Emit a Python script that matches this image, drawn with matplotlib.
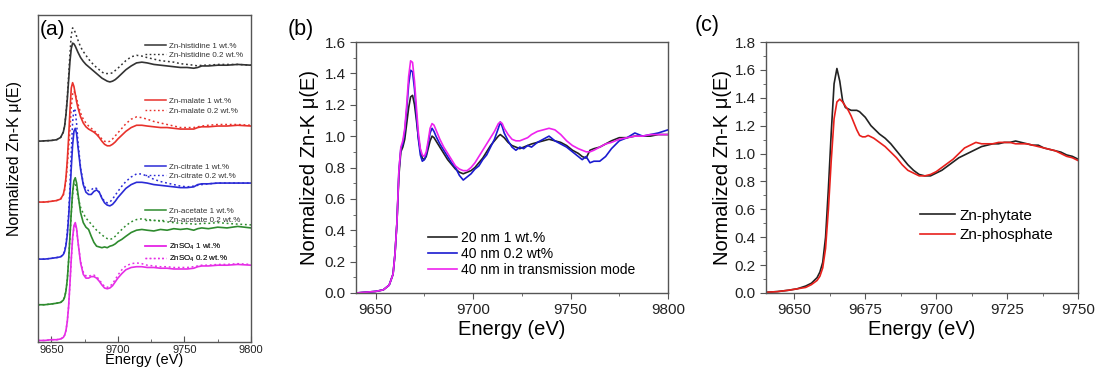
import matplotlib
matplotlib.use("Agg")
import matplotlib.pyplot as plt
from matplotlib.lines import Line2D
from matplotlib.ticker import MultipleLocator
import numpy as np

plt.rcParams['font.family'] = ['Liberation Sans', 'DejaVu Sans']
plt.rcParams['mathtext.fontset'] = 'custom'
plt.rcParams['mathtext.rm'] = 'Liberation Sans'
plt.rcParams['mathtext.default'] = 'regular'

# ---------------- Panel (a) data (normalized, relative to own baseline) ----
e_a = [9640, 9645, 9650, 9654, 9657, 9659, 9660, 9661, 9662, 9663, 9664, 9665,
       9666, 9667, 9668, 9669, 9670, 9672, 9674, 9676, 9678, 9680, 9682, 9684,
       9686, 9688, 9690, 9692, 9694, 9696, 9698, 9700, 9703, 9706, 9710, 9714,
       9718, 9722, 9727, 9732, 9737, 9742, 9747, 9752, 9757, 9760, 9763, 9768,
       9775, 9782, 9790, 9800]

his_1 = [0.0, 0.005, 0.01, 0.02, 0.05, 0.12, 0.2, 0.35, 0.55, 0.8, 1.05, 1.22,
         1.29, 1.28, 1.25, 1.21, 1.17, 1.10, 1.05, 1.01, 0.98, 0.95, 0.92, 0.89,
         0.86, 0.83, 0.81, 0.79, 0.78, 0.79, 0.81, 0.84, 0.89, 0.94, 0.99, 1.03,
         1.04, 1.03, 1.01, 1.0, 0.99, 0.98, 0.97, 0.97, 0.96, 0.97, 0.99, 0.99,
         1.0, 1.0, 1.01, 1.0]
his_02 = [0.0, 0.005, 0.01, 0.02, 0.05, 0.12, 0.2, 0.36, 0.58, 0.86, 1.15, 1.40,
          1.49, 1.47, 1.43, 1.38, 1.33, 1.24, 1.18, 1.13, 1.08, 1.04, 1.00, 0.97,
          0.94, 0.91, 0.89, 0.89, 0.89, 0.90, 0.93, 0.96, 1.01, 1.06, 1.11, 1.13,
          1.12, 1.10, 1.08, 1.06, 1.05, 1.04, 1.02, 1.01, 1.0, 0.99, 1.0, 1.0,
          1.01, 1.01, 1.01, 1.0]
mal_1 = [0.0, 0.0, 0.01, 0.02, 0.04, 0.10, 0.18, 0.32, 0.55, 0.85, 1.20, 1.50,
         1.57, 1.52, 1.42, 1.32, 1.24, 1.12, 1.04, 0.99, 0.96, 0.94, 0.92, 0.89,
         0.85, 0.80, 0.76, 0.74, 0.74, 0.76, 0.79, 0.83, 0.88, 0.93, 0.98, 1.01,
         1.01, 1.0, 0.99, 0.98, 0.98, 0.97, 0.96, 0.96, 0.96, 0.98, 0.99, 0.99,
         1.0, 1.0, 1.01, 1.0]
mal_02 = [0.0, 0.0, 0.01, 0.02, 0.04, 0.09, 0.16, 0.28, 0.48, 0.72, 0.95, 1.25,
          1.42, 1.46, 1.42, 1.36, 1.29, 1.17, 1.09, 1.04, 1.0, 0.97, 0.94, 0.91,
          0.87, 0.83, 0.80, 0.79, 0.80, 0.83, 0.87, 0.91, 0.97, 1.03, 1.09, 1.12,
          1.11, 1.09, 1.06, 1.04, 1.02, 1.0, 0.98, 0.98, 0.98, 0.99, 1.0, 1.01,
          1.02, 1.02, 1.02, 1.01]
cit_1 = [0.0, 0.0, 0.01, 0.02, 0.03, 0.06, 0.10, 0.18, 0.32, 0.55, 0.85, 1.20,
         1.50, 1.68, 1.72, 1.65, 1.48, 1.18, 0.98, 0.88, 0.85, 0.85, 0.89, 0.91,
         0.88, 0.80, 0.74, 0.71, 0.70, 0.72, 0.76, 0.81, 0.87, 0.93, 0.98, 1.01,
         1.01, 1.0, 0.98, 0.97, 0.96, 0.95, 0.94, 0.94, 0.95, 0.98, 0.99, 0.99,
         1.0, 1.0, 1.0, 1.0]
cit_02 = [0.0, 0.0, 0.01, 0.02, 0.03, 0.06, 0.11, 0.20, 0.36, 0.60, 0.95, 1.40,
          1.80, 1.98, 1.95, 1.78, 1.55, 1.20, 1.00, 0.92, 0.90, 0.91, 0.94, 0.93,
          0.88, 0.81, 0.76, 0.74, 0.75, 0.79, 0.84, 0.89, 0.96, 1.02, 1.08, 1.12,
          1.12, 1.09, 1.05, 1.02, 1.0, 0.98, 0.96, 0.95, 0.96, 0.97, 0.98, 0.99,
          1.0, 1.0, 1.0, 1.0]
ace_1 = [0.0, 0.0, 0.01, 0.02, 0.03, 0.06, 0.10, 0.18, 0.33, 0.58, 0.90, 1.22,
         1.48, 1.63, 1.67, 1.60, 1.46, 1.21, 1.08, 1.02, 0.99, 0.90, 0.82, 0.77,
         0.76, 0.75, 0.76, 0.75, 0.77, 0.78, 0.80, 0.83, 0.86, 0.90, 0.95, 0.98,
         0.99, 0.98, 0.97, 0.99, 0.98, 1.0, 0.99, 1.0, 0.98, 1.0, 1.01, 1.0,
         1.02, 1.01, 1.03, 1.01]
ace_02 = [0.0, 0.0, 0.01, 0.02, 0.03, 0.06, 0.10, 0.18, 0.33, 0.58, 0.90, 1.20,
          1.45, 1.60, 1.60, 1.52, 1.42, 1.28, 1.20, 1.14, 1.10, 1.06, 1.02, 0.98,
          0.95, 0.92, 0.89, 0.87, 0.86, 0.87, 0.90, 0.94, 0.99, 1.04, 1.09, 1.12,
          1.13, 1.12, 1.11, 1.10, 1.09, 1.08, 1.07, 1.07, 1.06, 1.06, 1.07, 1.07,
          1.08, 1.07, 1.06, 1.05]
so4_1 = [0.0, 0.0, 0.01, 0.01, 0.02, 0.04, 0.07, 0.13, 0.25, 0.45, 0.75, 1.08,
         1.35, 1.51, 1.55, 1.47, 1.30, 1.02, 0.87, 0.82, 0.82, 0.84, 0.84, 0.82,
         0.78, 0.73, 0.69, 0.68, 0.69, 0.72, 0.77, 0.82, 0.88, 0.93, 0.96, 0.97,
         0.97, 0.96, 0.96, 0.95, 0.95, 0.94, 0.94, 0.94, 0.95, 0.97, 0.98, 0.98,
         0.99, 0.99, 1.0, 0.99]
so4_02 = [0.0, 0.0, 0.01, 0.01, 0.02, 0.04, 0.07, 0.13, 0.25, 0.45, 0.74, 1.06,
          1.33, 1.49, 1.53, 1.46, 1.30, 1.04, 0.90, 0.85, 0.84, 0.86, 0.86, 0.84,
          0.80, 0.75, 0.71, 0.70, 0.71, 0.75, 0.80, 0.86, 0.93, 0.98, 1.01, 1.02,
          1.01, 0.99, 0.98, 0.97, 0.97, 0.96, 0.96, 0.96, 0.97, 0.98, 0.99, 0.99,
          1.0, 1.0, 1.01, 1.0]

labels_a = ["Zn-histidine", "Zn-malate", "Zn-citrate", "Zn-acetate", "ZnSO$_{4}$"]
offsets_a = [2.64, 1.84, 1.09, 0.49, 0.02]
colors_a = ["#333333", "#e8322c", "#2b2bd6", "#2e8b2e", "#e62ee6"]

# ---------------- Panel (b) data ----------------
e_b = [9640, 9645, 9650, 9654, 9657, 9659, 9660, 9661, 9662, 9663, 9664, 9665,
       9666, 9667, 9668, 9669, 9670, 9671, 9672, 9673, 9674, 9675, 9676, 9677,
       9678, 9679, 9680, 9681, 9683, 9685, 9687, 9689, 9691, 9693, 9695, 9697,
       9699, 9701, 9703, 9705, 9707, 9709, 9711, 9713, 9714, 9715, 9716, 9718,
       9720, 9722, 9724, 9726, 9728, 9730, 9733, 9736, 9739, 9742, 9745, 9748,
       9751, 9754, 9756, 9758, 9760, 9762, 9765, 9768, 9771, 9775, 9779, 9783,
       9787, 9791, 9795, 9800]
b_20nm = [0.0, 0.005, 0.01, 0.02, 0.05, 0.12, 0.25, 0.45, 0.75, 0.90, 0.93, 0.98,
          1.08, 1.18, 1.25, 1.26, 1.20, 1.10, 0.99, 0.91, 0.86, 0.85, 0.87, 0.92,
          0.97, 1.0, 0.99, 0.97, 0.93, 0.89, 0.85, 0.82, 0.79, 0.77, 0.76, 0.77,
          0.78, 0.80, 0.83, 0.86, 0.90, 0.94, 0.97, 1.0, 1.01, 1.0, 0.99, 0.96,
          0.94, 0.93, 0.92, 0.93, 0.94, 0.95, 0.96, 0.97, 0.98, 0.97, 0.96, 0.94,
          0.91, 0.89, 0.87, 0.86, 0.91, 0.92, 0.93, 0.95, 0.97, 0.99, 0.99, 1.0,
          1.0, 1.0, 1.01, 1.01]
b_40nm = [0.0, 0.005, 0.01, 0.02, 0.05, 0.12, 0.25, 0.45, 0.78, 0.92, 0.95, 1.03,
          1.17, 1.33, 1.42, 1.41, 1.30, 1.13, 0.98, 0.88, 0.84, 0.85, 0.88, 0.95,
          1.02, 1.05, 1.03, 1.00, 0.95, 0.91, 0.87, 0.83, 0.80, 0.75, 0.72, 0.74,
          0.76, 0.79, 0.81, 0.85, 0.88, 0.93, 0.98, 1.05, 1.09, 1.06, 1.02, 0.97,
          0.93, 0.91, 0.93, 0.92, 0.94, 0.93, 0.96, 0.98, 1.0, 0.97, 0.95, 0.93,
          0.90, 0.87, 0.85, 0.87, 0.83, 0.84, 0.84, 0.87, 0.92, 0.97, 0.99, 1.02,
          1.0, 1.01, 1.02, 1.04]
b_trans = [0.0, 0.005, 0.01, 0.02, 0.05, 0.12, 0.25, 0.45, 0.78, 0.93, 0.97, 1.05,
           1.20, 1.38, 1.48, 1.47, 1.35, 1.18, 1.02, 0.92, 0.88, 0.87, 0.90, 0.97,
           1.05, 1.08, 1.07, 1.04, 0.98, 0.93, 0.89, 0.85, 0.81, 0.79, 0.78, 0.78,
           0.80, 0.83, 0.87, 0.91, 0.95, 0.99, 1.03, 1.08, 1.09, 1.08, 1.05, 1.01,
           0.98, 0.97, 0.97, 0.98, 0.99, 1.01, 1.03, 1.04, 1.05, 1.04, 1.01, 0.97,
           0.94, 0.92, 0.91, 0.90, 0.90, 0.91, 0.93, 0.95, 0.96, 0.98, 0.99, 1.0,
           1.0, 1.01, 1.01, 1.01]
labels_b = ["20 nm 1 wt.%", "40 nm 0.2 wt%", "40 nm in transmission mode"]
colors_b = ["#222222", "#1a1ad0", "#ee22ee"]

# ---------------- Panel (c) data ----------------
e_c = [9640, 9644, 9648, 9651, 9654, 9656, 9658, 9659, 9660, 9661, 9662, 9663,
       9664, 9665, 9666, 9667, 9668, 9669, 9670, 9671, 9672, 9673, 9674, 9675,
       9676, 9677, 9678, 9680, 9682, 9684, 9686, 9688, 9690, 9692, 9694, 9696,
       9698, 9700, 9702, 9704, 9706, 9708, 9710, 9712, 9714, 9716, 9718, 9720,
       9722, 9724, 9726, 9728, 9730, 9732, 9734, 9736, 9738, 9740, 9742, 9744,
       9746, 9748, 9750]
phytate = [0.005, 0.01, 0.02, 0.03, 0.05, 0.07, 0.11, 0.15, 0.22, 0.40, 0.75, 1.15,
           1.50, 1.61, 1.52, 1.38, 1.33, 1.32, 1.31, 1.31, 1.31, 1.30, 1.28, 1.26,
           1.23, 1.20, 1.18, 1.14, 1.11, 1.07, 1.02, 0.97, 0.92, 0.88, 0.85, 0.84,
           0.84, 0.86, 0.88, 0.91, 0.94, 0.97, 0.99, 1.01, 1.03, 1.05, 1.06, 1.07,
           1.07, 1.08, 1.08, 1.09, 1.08, 1.07, 1.06, 1.06, 1.04, 1.03, 1.02, 1.01,
           0.99, 0.98, 0.96]
phosphate = [0.005, 0.01, 0.02, 0.03, 0.04, 0.06, 0.09, 0.12, 0.18, 0.32, 0.60, 0.95,
             1.25, 1.37, 1.39, 1.37, 1.34, 1.31, 1.27, 1.22, 1.17, 1.13, 1.12, 1.12,
             1.13, 1.12, 1.11, 1.08, 1.05, 1.01, 0.97, 0.92, 0.88, 0.86, 0.84, 0.84,
             0.85, 0.87, 0.90, 0.93, 0.96, 1.00, 1.04, 1.06, 1.08, 1.07, 1.07, 1.07,
             1.08, 1.08, 1.08, 1.07, 1.07, 1.07, 1.06, 1.05, 1.04, 1.03, 1.02, 1.00,
             0.98, 0.97, 0.95]
labels_c = ["Zn-phytate", "Zn-phosphate"]
colors_c = ["#222222", "#e8201c"]

# ---------------- Figure ----------------
fig = plt.figure(figsize=(10.96, 3.74), dpi=100)
spine_col = "#555555"

def style(ax, fs, direction='out', pad=3.5):
    for s in ax.spines.values():
        s.set_color(spine_col)
        s.set_linewidth(1.0)
    ax.tick_params(which='both', direction=direction, colors=spine_col,
                   labelcolor="#222222", labelsize=fs, pad=pad)
    ax.tick_params(which='major', length=4)
    ax.tick_params(which='minor', length=2.5)

# (a)
ax_a = fig.add_axes([38/1096, 32/374, 213/1096, 327/374])
ea = np.array(e_a)
solid_a = [his_1, mal_1, cit_1, ace_1, so4_1]
dot_a = [his_02, mal_02, cit_02, ace_02, so4_02]
for s1, s2, off, col in zip(solid_a, dot_a, offsets_a, colors_a):
    ax_a.plot(ea, np.array(s2) + off, color=col, lw=1.1, ls=(0, (1.2, 1.8)))
    ax_a.plot(ea, np.array(s1) + off, color=col, lw=1.2)
ax_a.set_xlim(9640, 9800)
ax_a.set_ylim(0, 4.3)
ax_a.set_yticks([])
ax_a.xaxis.set_major_locator(MultipleLocator(50))
ax_a.xaxis.set_minor_locator(MultipleLocator(25))
style(ax_a, 8, direction='in', pad=2)
ax_a.set_xlabel("Energy (eV)", fontsize=10.5, labelpad=-1)
ax_a.set_ylabel("Normalized Zn-K \u03bc(E)", fontsize=11.5)
ax_a.yaxis.set_label_coords(-0.075, 0.56)
ax_a.text(0.01, 0.985, "(a)", transform=ax_a.transAxes, fontsize=15,
          va='top', ha='left')
leg_y = [0.90, 0.73, 0.53, 0.395, 0.29]
for lab, col, y in zip(labels_a, colors_a, leg_y):
    h = [Line2D([], [], color=col, lw=1.1),
         Line2D([], [], color=col, lw=1.0, ls=(0, (1.2, 1.8)))]
    lg = ax_a.legend(h, [lab + " 1 wt.%", lab + " 0.2 wt.%"],
                     loc='upper left', bbox_to_anchor=(0.478, y + 0.035),
                     frameon=False, fontsize=5.8, handlelength=2.6,
                     handletextpad=0.3, labelspacing=0.25, borderpad=0.2)
    for t in lg.get_texts():
        t.set_color("#333333")
    ax_a.add_artist(lg)

# (b)
ax_b = fig.add_axes([356/1096, 81/374, 312/1096, 251/374])
for vals, col, lab in zip([b_20nm, b_40nm, b_trans], colors_b, labels_b):
    ax_b.plot(e_b, vals, color=col, lw=1.2, label=lab)
ax_b.set_xlim(9640, 9800)
ax_b.set_ylim(0, 1.6)
ax_b.xaxis.set_major_locator(MultipleLocator(50))
ax_b.xaxis.set_minor_locator(MultipleLocator(25))
ax_b.yaxis.set_major_locator(MultipleLocator(0.2))
ax_b.yaxis.set_minor_locator(MultipleLocator(0.1))
style(ax_b, 11)
ax_b.set_xlabel("Energy (eV)", fontsize=14.5, labelpad=2)
ax_b.set_ylabel("Normalized Zn-K \u03bc(E)", fontsize=14.5, labelpad=4)
fig.text(288/1096, 1 - 29/374, "(b)", fontsize=15.5, va='center', ha='left')
ax_b.legend(loc='lower left', bbox_to_anchor=(0.2, 0.025), frameon=False,
            fontsize=10, handlelength=2.1, handletextpad=0.25,
            labelspacing=0.15, borderpad=0.2)

# (c)
ax_c = fig.add_axes([766/1096, 81/374, 312/1096, 251/374])
for vals, col, lab in zip([phytate, phosphate], colors_c, labels_c):
    ax_c.plot(e_c, vals, color=col, lw=1.2, label=lab)
ax_c.set_xlim(9640, 9750)
ax_c.set_ylim(0, 1.8)
ax_c.xaxis.set_major_locator(MultipleLocator(25))
ax_c.xaxis.set_minor_locator(MultipleLocator(12.5))
ax_c.yaxis.set_major_locator(MultipleLocator(0.2))
ax_c.yaxis.set_minor_locator(MultipleLocator(0.1))
style(ax_c, 11)
ax_c.set_xlabel("Energy (eV)", fontsize=14.5, labelpad=2)
ax_c.set_ylabel("Normalized Zn-K \u03bc(E)", fontsize=14.5, labelpad=2)
fig.text(695/1096, 1 - 26/374, "(c)", fontsize=15.5, va='center', ha='left')
ax_c.legend(loc='lower left', bbox_to_anchor=(0.46, 0.16), frameon=False,
            fontsize=11, handlelength=2.3, handletextpad=0.3,
            labelspacing=0.35, borderpad=0.2)

fig.savefig("out.png", dpi=100)
